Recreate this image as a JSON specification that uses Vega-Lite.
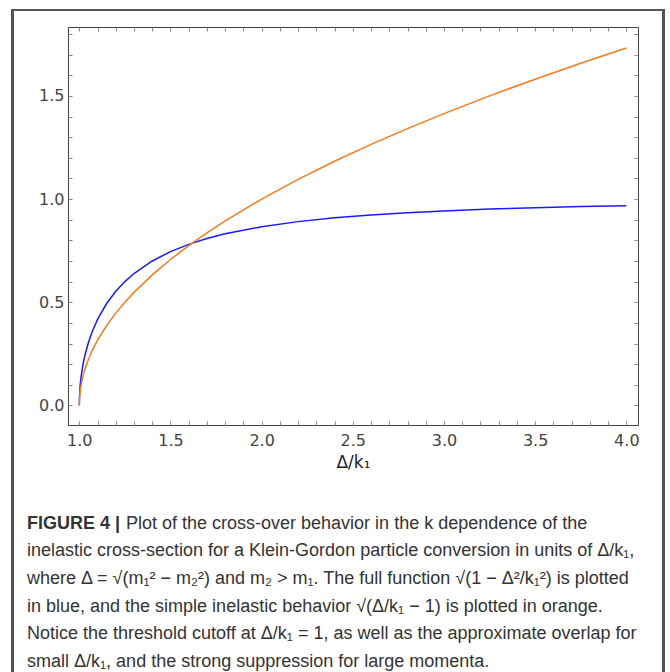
{
  "$schema": "https://vega.github.io/schema/vega-lite/v6.json",
  "width": 570,
  "height": 398,
  "autosize": "none",
  "padding": {"left": 68, "top": 27, "right": 32, "bottom": 247},
  "background": "white",
  "config": {
    "view": {"stroke": "#444", "strokeWidth": 1},
    "axis": {"grid": false, "domain": false, "labelFont": "DejaVu Sans", "titleFont": "DejaVu Sans"}
  },
  "title": {
    "text": "FIGURE 4 |",
    "subtitle": [
      "\u200B\u2003\u2003\u2003\u2003\u2003\u2002Plot of the cross-over behavior in the k dependence of the",
      "inelastic cross-section for a Klein-Gordon particle conversion in units of Δ/k₁,",
      "where Δ = √(m₁² − m₂²) and m₂ > m₁. The full function √(1 − Δ²/k₁²) is plotted",
      "in blue, and the simple inelastic behavior √(Δ/k₁ − 1) is plotted in orange.",
      "Notice the threshold cutoff at Δ/k₁ = 1, as well as the approximate overlap for",
      "small Δ/k₁, and the strong suppression for large momenta."
    ],
    "orient": "bottom",
    "anchor": "start",
    "frame": "group",
    "dx": -41,
    "offset": -166,
    "font": "Liberation Sans",
    "fontSize": 18,
    "fontWeight": "bold",
    "color": "#333",
    "subtitleFont": "Liberation Sans",
    "subtitleFontSize": 18,
    "subtitleColor": "#333",
    "subtitleLineHeight": 27.6,
    "subtitlePadding": -18
  },
  "data": {
    "values": [
      {"x": 1.0, "y": 0.0, "s": "full"},
      {"x": 1.001, "y": 0.0447, "s": "full"},
      {"x": 1.005, "y": 0.0996, "s": "full"},
      {"x": 1.01, "y": 0.1404, "s": "full"},
      {"x": 1.02, "y": 0.1971, "s": "full"},
      {"x": 1.03, "y": 0.2396, "s": "full"},
      {"x": 1.05, "y": 0.3049, "s": "full"},
      {"x": 1.07, "y": 0.3558, "s": "full"},
      {"x": 1.1, "y": 0.4166, "s": "full"},
      {"x": 1.15, "y": 0.4938, "s": "full"},
      {"x": 1.2, "y": 0.5528, "s": "full"},
      {"x": 1.25, "y": 0.6, "s": "full"},
      {"x": 1.3, "y": 0.639, "s": "full"},
      {"x": 1.4, "y": 0.6999, "s": "full"},
      {"x": 1.5, "y": 0.7454, "s": "full"},
      {"x": 1.6, "y": 0.7806, "s": "full"},
      {"x": 1.7, "y": 0.8087, "s": "full"},
      {"x": 1.8, "y": 0.8315, "s": "full"},
      {"x": 2.0, "y": 0.866, "s": "full"},
      {"x": 2.2, "y": 0.8907, "s": "full"},
      {"x": 2.4, "y": 0.9091, "s": "full"},
      {"x": 2.6, "y": 0.9231, "s": "full"},
      {"x": 2.8, "y": 0.9341, "s": "full"},
      {"x": 3.0, "y": 0.9428, "s": "full"},
      {"x": 3.25, "y": 0.9515, "s": "full"},
      {"x": 3.5, "y": 0.9583, "s": "full"},
      {"x": 3.75, "y": 0.9638, "s": "full"},
      {"x": 4.0, "y": 0.9682, "s": "full"},
      {"x": 1.0, "y": 0.0, "s": "simple"},
      {"x": 1.001, "y": 0.0316, "s": "simple"},
      {"x": 1.005, "y": 0.0707, "s": "simple"},
      {"x": 1.01, "y": 0.1, "s": "simple"},
      {"x": 1.02, "y": 0.1414, "s": "simple"},
      {"x": 1.03, "y": 0.1732, "s": "simple"},
      {"x": 1.05, "y": 0.2236, "s": "simple"},
      {"x": 1.07, "y": 0.2646, "s": "simple"},
      {"x": 1.1, "y": 0.3162, "s": "simple"},
      {"x": 1.15, "y": 0.3873, "s": "simple"},
      {"x": 1.2, "y": 0.4472, "s": "simple"},
      {"x": 1.25, "y": 0.5, "s": "simple"},
      {"x": 1.3, "y": 0.5477, "s": "simple"},
      {"x": 1.4, "y": 0.6325, "s": "simple"},
      {"x": 1.5, "y": 0.7071, "s": "simple"},
      {"x": 1.6, "y": 0.7746, "s": "simple"},
      {"x": 1.7, "y": 0.8367, "s": "simple"},
      {"x": 1.8, "y": 0.8944, "s": "simple"},
      {"x": 2.0, "y": 1.0, "s": "simple"},
      {"x": 2.2, "y": 1.0954, "s": "simple"},
      {"x": 2.4, "y": 1.1832, "s": "simple"},
      {"x": 2.6, "y": 1.2649, "s": "simple"},
      {"x": 2.8, "y": 1.3416, "s": "simple"},
      {"x": 3.0, "y": 1.4142, "s": "simple"},
      {"x": 3.25, "y": 1.5, "s": "simple"},
      {"x": 3.5, "y": 1.5811, "s": "simple"},
      {"x": 3.75, "y": 1.6583, "s": "simple"},
      {"x": 4.0, "y": 1.7321, "s": "simple"}
    ]
  },
  "resolve": {"axis": {"x": "independent", "y": "independent"}},
  "layer": [
    {
      "mark": {"type": "line", "strokeWidth": 1.5, "clip": true},
      "encoding": {
        "x": {
          "field": "x", "type": "quantitative",
          "scale": {"domain": [0.938, 4.064], "nice": false, "zero": false},
          "axis": {
            "orient": "bottom", "values": [1, 1.5, 2, 2.5, 3, 3.5, 4], "format": ".1f",
            "ticks": false, "labelPadding": 7, "labelFontSize": 16, "labelColor": "#444",
            "title": "Δ/k₁", "titleFontSize": 17, "titleFontWeight": "normal", "titleColor": "#222", "titlePadding": 6
          }
        },
        "y": {
          "field": "y", "type": "quantitative",
          "scale": {"domain": [-0.095, 1.834], "nice": false, "zero": false},
          "axis": {
            "orient": "left", "values": [0, 0.5, 1, 1.5], "format": ".1f",
            "ticks": false, "labelPadding": 4, "labelFontSize": 16, "labelColor": "#444", "title": null
          }
        },
        "color": {
          "field": "s", "type": "nominal",
          "scale": {"domain": ["full", "simple"], "range": ["#1a1aff", "#f77b1d"]},
          "legend": null
        }
      }
    },
    {
      "mark": {"type": "point", "opacity": 0},
      "encoding": {
        "x": {"field": "x", "type": "quantitative",
          "axis": {"orient": "bottom", "values": [1.0,1.1,1.2,1.3,1.4,1.5,1.6,1.7,1.8,1.9,2.0,2.1,2.2,2.3,2.4,2.5,2.6,2.7,2.8,2.9,3.0,3.1,3.2,3.3,3.4,3.5,3.6,3.7,3.8,3.9,4.0],
            "labels": false, "ticks": true, "tickSize": -4, "tickColor": "#888", "title": null}},
        "y": {"field": "y", "type": "quantitative",
          "axis": {"orient": "left", "values": [0,0.1,0.2,0.3,0.4,0.5,0.6,0.7,0.8,0.9,1.0,1.1,1.2,1.3,1.4,1.5,1.6,1.7,1.8],
            "labels": false, "ticks": true, "tickSize": -4, "tickColor": "#888", "title": null}}
      }
    },
    {
      "mark": {"type": "point", "opacity": 0},
      "encoding": {
        "x": {"field": "x", "type": "quantitative",
          "axis": {"orient": "top", "values": [1.0,1.1,1.2,1.3,1.4,1.5,1.6,1.7,1.8,1.9,2.0,2.1,2.2,2.3,2.4,2.5,2.6,2.7,2.8,2.9,3.0,3.1,3.2,3.3,3.4,3.5,3.6,3.7,3.8,3.9,4.0],
            "labels": false, "ticks": true, "tickSize": -4, "tickColor": "#888", "title": null}},
        "y": {"field": "y", "type": "quantitative",
          "axis": {"orient": "right", "values": [0,0.1,0.2,0.3,0.4,0.5,0.6,0.7,0.8,0.9,1.0,1.1,1.2,1.3,1.4,1.5,1.6,1.7,1.8],
            "labels": false, "ticks": true, "tickSize": -4, "tickColor": "#888", "title": null}}
      }
    },
    {
      "mark": {"type": "rect", "fill": null, "stroke": "#555", "strokeWidth": 1.5},
      "encoding": {
        "x": {"datum": 0.6346, "type": "quantitative", "axis": null},
        "x2": {"datum": 4.205},
        "y": {"datum": 1.915, "type": "quantitative", "axis": null},
        "y2": {"datum": -1.331}
      }
    }
  ]
}
